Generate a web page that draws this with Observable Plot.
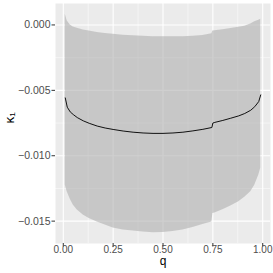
<!DOCTYPE html>
<html>
<head>
<meta charset="utf-8">
<script src="https://cdn.jsdelivr.net/npm/d3@7"></script>
<script src="https://cdn.jsdelivr.net/npm/@observablehq/plot@0.6"></script>
<style>
  html, body { margin: 0; padding: 0; background: #fff; }
</style>
</head>
<body>
<div id="chart"></div>
<script>
const q = [0.01, 0.02, 0.035, 0.05, 0.07, 0.10, 0.13, 0.17, 0.21, 0.25, 0.30, 0.35, 0.40, 0.45, 0.50, 0.55, 0.60, 0.65, 0.70, 0.745, 0.75, 0.76, 0.80, 0.84, 0.88, 0.91, 0.94, 0.96, 0.98, 0.99];
const kappa = [-0.00558, -0.00629, -0.00665, -0.00685, -0.00708, -0.00733, -0.00752, -0.00773, -0.00788, -0.00799, -0.00811, -0.0082, -0.00826, -0.00829, -0.00829, -0.00826, -0.0082, -0.0081, -0.00798, -0.00784, -0.0075, -0.00745, -0.0073, -0.00713, -0.00695, -0.00677, -0.00652, -0.00625, -0.00586, -0.00535];
const upper = [0.00081, 0.0003, 0.0, -0.00015, -0.00026, -0.00038, -0.00046, -0.00057, -0.00066, -0.00071, -0.00078, -0.00083, -0.00087, -0.0009, -0.00091, -0.00091, -0.0009, -0.00086, -0.0008, -0.00068, -0.00046, -0.00044, -0.00037, -0.00028, -0.00018, -0.0001, 0.00008, 0.00024, 0.00036, 0.00043];
const lower = [-0.01225, -0.01278, -0.01332, -0.01377, -0.01415, -0.01454, -0.0148, -0.01507, -0.0153, -0.01552, -0.01568, -0.01575, -0.01583, -0.01588, -0.01587, -0.01579, -0.01568, -0.01549, -0.01526, -0.01507, -0.01442, -0.01438, -0.01412, -0.01385, -0.01351, -0.01317, -0.01276, -0.01225, -0.01149, -0.01096];

const xTicks = [0, 0.25, 0.5, 0.75, 1];
const xMinor = [0.125, 0.375, 0.625, 0.875];
const yTicks = [0, -0.005, -0.01, -0.015];
const yMinor = [-0.0025, -0.0075, -0.0125];
const xLabel = "q";
const yLabel = "κ₁";

const rows = q.map((v, i) => ({q: v, k: kappa[i], lo: lower[i], hi: upper[i]}));

const fmt = d3.format(".3f");
const xfmt = d3.format(".2f");

const chart = Plot.plot({
  width: 273,
  height: 273,
  marginLeft: 55,
  marginRight: 3,
  marginTop: 3,
  marginBottom: 30,
  style: {fontFamily: "'Liberation Sans', Arial, sans-serif", background: "#fff", overflow: "visible"},
  x: {domain: [-0.039, 1.039]},
  y: {domain: [-0.01671, 0.00164]},
  marks: [
    Plot.frame({fill: "#EBEBEB", stroke: null}),
    Plot.gridX(xMinor, {stroke: "#fff", strokeOpacity: 1, strokeWidth: 0.5}),
    Plot.gridY(yMinor, {stroke: "#fff", strokeOpacity: 1, strokeWidth: 0.5}),
    Plot.gridX(xTicks, {stroke: "#fff", strokeOpacity: 1, strokeWidth: 1.1}),
    Plot.gridY(yTicks, {stroke: "#fff", strokeOpacity: 1, strokeWidth: 1.1}),
    Plot.areaY(rows, {x: "q", y1: "lo", y2: "hi", fill: "#B2B2B2", fillOpacity: 0.62}),
    Plot.lineY(rows, {x: "q", y: "k", stroke: "#111", strokeWidth: 1}),
    Plot.axisX(xTicks, {tickSize: 3.5, tickPadding: -1.5, tickFormat: xfmt, fontSize: 10, color: "#4D4D4D", stroke: "#333", label: null}),
    Plot.axisY(yTicks, {tickSize: 3.5, tickPadding: 1.5, tickFormat: fmt, fontSize: 10.5, color: "#4D4D4D", stroke: "#333", label: null}),
    Plot.text([xLabel], {frameAnchor: "bottom", dy: 21, text: d => d, fontSize: 12, fill: "#000"}),
    Plot.text([yLabel], {frameAnchor: "left", dx: -46, rotate: -90, text: d => d, fontSize: 13.5, fill: "#000"})
  ]
});
document.getElementById("chart").appendChild(chart);
</script>
</body>
</html>
